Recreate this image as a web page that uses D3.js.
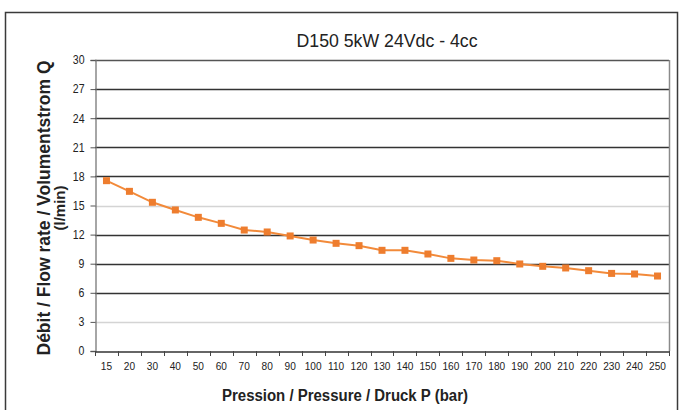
<!DOCTYPE html>
<html><head><meta charset="utf-8">
<script src="https://cdn.jsdelivr.net/npm/d3@7"></script>
<style>body{margin:0;background:#fff}svg{display:block}text{font-family:"Liberation Sans",Arial,sans-serif}</style>
</head><body><svg id="c" width="685" height="410"></svg>
<script>
const categories = ["15","20","30","40","50","60","70","80","90","100","110","120","130","140","150","160","170","180","190","200","210","220","230","240","250"];
const flow = [17.56,16.46,15.33,14.54,13.78,13.16,12.47,12.27,11.86,11.44,11.1,10.86,10.38,10.38,10.0,9.55,9.38,9.31,8.97,8.73,8.56,8.28,8.0,7.94,7.73];
const yTicks = [0,3,6,9,12,15,18,21,24,27,30];
const title = "D150 5kW 24Vdc - 4cc";
const xTitle = "Pression / Pressure / Druck P (bar)";
const yTitle1 = "Débit / Flow rate / Volumentstrom Q";
const yTitle2 = "(l/min)";

const svg = d3.select("#c");
const L = 95, R = 669, T = 60, B = 351;
const x = d3.scaleBand().domain(categories).range([L, R]);
const y = d3.scaleLinear().domain([0, 30]).range([B, T]);

// outer frame
svg.append("rect").attr("x", 5.5).attr("y", 12.5).attr("width", 672).attr("height", 410)
  .attr("fill", "none").attr("stroke", "#3a3a3a").attr("stroke-width", 1.5);

// gridlines
const lightSet = new Set([3, 15]);
svg.append("g").selectAll("line").data(yTicks.filter(d => d > 0)).join("line")
  .attr("x1", L).attr("x2", R).attr("y1", d => Math.round(y(d)) + 0.5).attr("y2", d => Math.round(y(d)) + 0.5)
  .attr("stroke", d => lightSet.has(d) ? "#d4d4d4" : (d === 30 ? "#555" : "#333"))
  .attr("stroke-width", d => lightSet.has(d) ? 1.5 : 1.3);

// right border
svg.append("line").attr("x1", R + 0.5).attr("x2", R + 0.5).attr("y1", T).attr("y2", B)
  .attr("stroke", "#8a8a8a").attr("stroke-width", 1.5);

// y axis
const yAxis = d3.axisLeft(y).tickValues(yTicks).tickSize(5).tickPadding(5);
const gy = svg.append("g").attr("transform", `translate(${L + 0.5},0)`).call(yAxis);
gy.select(".domain").attr("stroke", "#777").attr("stroke-width", 1.3);
gy.selectAll(".tick line").attr("stroke", "#555");
gy.selectAll("text").attr("font-size", 12).attr("fill", "#222").attr("transform", "scale(0.88,1)")
  .attr("x", -11 / 0.88);

// x axis (ticks between categories)
const xAxis = d3.axisBottom(x).tickSize(0).tickPadding(10);
const gx = svg.append("g").attr("transform", `translate(0,${B + 0.5})`).call(xAxis);
gx.select(".domain").attr("stroke", "#333").attr("stroke-width", 1.3);
gx.selectAll(".tick").each(function(d){
  const c = x(d) + x.bandwidth()/2;
  d3.select(this).attr("transform", null);
  d3.select(this).select("text").attr("x", c / 0.88).attr("transform", "scale(0.88,1)")
    .attr("font-size", 11.5).attr("fill", "#222");
});
const bounds = categories.map(c => x(c)).concat([R]);
svg.append("g").selectAll("line").data(bounds).join("line")
  .attr("x1", d => Math.round(d) + 0.5).attr("x2", d => Math.round(d) + 0.5)
  .attr("y1", B).attr("y2", B + 5).attr("stroke", "#444");

// line and markers
const cx = d => x(d) + x.bandwidth() / 2;
const line = d3.line().x((d, i) => cx(categories[i])).y(d => y(d));
svg.append("path").datum(flow).attr("d", line).attr("fill", "none")
  .attr("stroke", "#F28A3A").attr("stroke-width", 2);
svg.append("g").selectAll("rect").data(flow).join("rect")
  .attr("x", (d, i) => cx(categories[i]) - 3.5).attr("y", d => y(d) - 3.5)
  .attr("width", 7).attr("height", 7).attr("fill", "#EE7D2E");

// title
svg.append("text").attr("x", 387).attr("y", 47).attr("text-anchor", "middle")
  .attr("font-size", 18).attr("fill", "#222").attr("textLength", 181).attr("lengthAdjust", "spacingAndGlyphs").text(title);

// axis titles
svg.append("text").attr("x", 345).attr("y", 401).attr("text-anchor", "middle")
  .attr("font-size", 16).attr("font-weight", "bold").attr("fill", "#222")
  .attr("textLength", 246).attr("lengthAdjust", "spacingAndGlyphs").text(xTitle);
svg.append("text").attr("transform", "translate(50,208) rotate(-90)").attr("text-anchor", "middle")
  .attr("font-size", 17.5).attr("font-weight", "bold").attr("fill", "#222")
  .attr("textLength", 295).attr("lengthAdjust", "spacingAndGlyphs").text(yTitle1);
svg.append("text").attr("transform", "translate(65,208) rotate(-90)").attr("text-anchor", "middle")
  .attr("font-size", 15).attr("font-weight", "bold").attr("fill", "#222").text(yTitle2);
</script></body></html>
